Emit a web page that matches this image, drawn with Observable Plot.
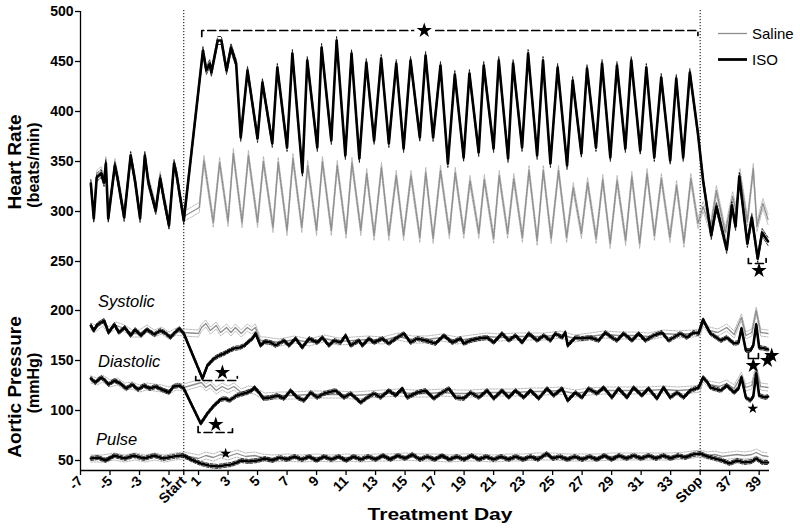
<!DOCTYPE html>
<html><head><meta charset="utf-8">
<script src="https://cdn.jsdelivr.net/npm/d3@7"></script>
<script src="https://cdn.jsdelivr.net/npm/@observablehq/plot@0.6"></script>
<style>
body{margin:0;background:#fff;}
#wrap{position:relative;width:800px;height:528px;font-family:"Liberation Sans",Arial,sans-serif;background:#fff;overflow:hidden}
#top,#bot{position:absolute;left:0;}
#top{top:0}
#bot{top:280px}
#ov{position:absolute;left:0;top:0;pointer-events:none}
</style></head><body>
<div id="wrap"><div id="top"></div><div id="bot"></div>
<svg id="ov" width="800" height="528" font-family="'Liberation Sans', Arial, sans-serif"></svg></div>
<script>
// ---------- axes ----------
const xDomain = [-7, 39.7];
const dayTicks = [-7,-5,-3,-1,0,1,3,5,7,9,11,13,15,17,19,21,23,25,27,29,31,33,35,37,39];
const dayTickLabels = ["-7","-5","-3","-1","Start","1","3","5","7","9","11","13","15","17","19","21","23","25","27","29","31","33","Stop","37","39"];
const markerDays = [0, 35];
const hrDomain = [238, 500];
const hrTicks = [250,300,350,400,450,500];
const bpDomain = [40, 230];
const bpTicks = [50,100,150,200];

// ---------- heart rate (beats/min) [day, value] ----------
const isoHeartRate = [[-6.3,328],[-6.1,293],[-5.9,334],[-5.6,338],[-5.4,329],[-5.28,348],[-5.12,293],[-4.67,346],[-4.5,334],[-4.04,294],[-3.6,356],[-3.3,330],[-2.96,293],[-2.64,356],[-2.4,329],[-1.9,301],[-1.6,333],[-1.33,311],[-1.0,286],[-0.66,348],[-0.5,338],[0,291],
[1.3,461],[1.53,441],[1.76,448],[1.87,439],[2.3,471],[2.55,471],[2.9,441],[3.2,464],[3.55,448],
[3.86,374],[4.32,441],[5.0,373],[5.33,429],[6.0,368],[6.34,444],[7.0,364],[7.36,458],[8.04,339],[8.37,451],[9.05,364],[9.34,464],[10.0,371],[10.36,471],[10.95,356],[11.37,458],[11.9,353],[12.37,449],[12.9,371],[13.38,453],[13.9,368],[14.4,448],[14.9,363],[15.37,451],[16.0,374],[16.39,456],[16.9,374],[17.4,446],[17.9,348],[18.37,437],[18.97,354],[19.36,438],[19.99,359],[20.33,446],[21.0,363],[21.35,451],[21.98,353],[22.32,448],[22.93,364],[23.34,458],[23.95,356],[24.35,451],[24.85,348],[25.34,444],[25.98,346],[26.36,431],[26.95,358],[27.33,443],[27.94,364],[28.35,448],[28.91,354],[29.36,446],[29.93,363],[30.33,451],[30.94,361],[31.35,444],[31.89,354],[32.36,434],[32.97,351],[33.38,433],[33.85,354],[34.3,439],[34.85,378],
[35.2,331],[35.75,276],[36.1,305],[36.8,262],[37.15,306],[37.4,285],[37.65,335],[38.2,268],[38.5,294],[38.9,253],[39.2,279],[39.6,270]];
const salineHeartRate = [[-6.3,326],[-6.1,296],[-5.9,336],[-5.6,340],[-5.4,331],[-5.28,350],[-5.12,296],[-4.67,348],[-4.5,336],[-4.04,297],[-3.6,354],[-3.3,332],[-2.96,296],[-2.64,354],[-2.4,331],[-1.9,303],[-1.6,335],[-1.33,313],[-1.0,289],[-0.66,346],[-0.5,336],[0,295],
[1.05,304],[1.37,351],[2.0,289],[2.43,349],[3.0,290],[3.36,358],[3.95,289],[4.38,356],[5.0,289],[5.4,350],[6.05,284],[6.4,349],[7.0,281],[7.4,353],[8.0,284],[8.4,346],[9.0,281],[9.4,350],[10.0,281],[10.4,346],[11.0,278],[11.4,349],[12.0,281],[12.4,338],[12.9,276],[13.4,344],[13.9,276],[14.4,336],[14.9,276],[15.4,336],[16.0,274],[16.4,339],[16.9,273],[17.4,341],[18.0,278],[18.4,339],[18.98,278],[19.4,331],[20.0,278],[20.37,332],[21.0,273],[21.38,336],[21.95,278],[22.37,333],[22.95,274],[23.4,341],[23.95,271],[24.37,341],[24.9,273],[25.4,341],[25.95,274],[26.4,324],[26.95,278],[27.37,329],[27.95,273],[28.4,332],[28.9,268],[29.37,331],[29.95,271],[30.37,335],[30.9,268],[31.4,338],[31.9,276],[32.37,333],[32.95,274],[33.4,326],[33.9,269],[34.37,333],[34.85,288],
[35.2,305],[35.7,283],[36.1,321],[36.7,279],[37.2,315],[37.45,300],[37.7,338],[38.2,290],[38.6,343],[38.85,285],[39.25,308],[39.6,292]];
const isoHrSem = 4;
const salineHrSem = 5;

// ---------- aortic pressure (mmHg) [day, value] ----------
const isoSystolic = [[-6.3,185],[-6.1,180],[-5.85,186],[-5.4,190],[-5.1,178],[-4.7,186],[-4.4,178],[-4.0,183],[-3.6,175],[-3.3,181],[-2.9,175],[-2.5,181],[-2.0,176],[-1.6,180],[-1.3,178],[-0.9,173],[-0.6,178],[-0.3,182],[0,177],
[1.27,132],[1.6,145],[2.05,152],[2.4,155],[2.73,157],[3.1,160],[3.4,162],[3.8,163],[4.1,165],[4.4,169],[4.65,172],[4.87,177],[5.2,165],[5.5,169],
[5.89,168],[6.23,165],[6.79,170],[7.13,165],[7.58,172],[8.03,163],[8.49,172],[9.05,168],[9.39,173],[9.84,165],[10.18,170],[10.63,168],[10.97,175],[11.31,165],[11.87,170],[12.1,165],[12.55,172],[12.89,168],[13.45,172],[13.9,167],[14.47,173],[14.92,177],[15.37,168],[15.82,172],[16.39,170],[17.06,167],[17.63,175],[18.19,168],[18.76,172],[18.98,167],[19.43,170],[20.0,172],[20.56,173],[21.01,168],[21.57,177],[22.03,170],[22.48,175],[22.93,168],[23.38,177],[23.95,170],[24.4,175],[24.85,170],[25.19,177],[25.64,173],[25.86,178],[26.02,165],[26.54,173],[26.99,172],[27.55,173],[28.12,170],[28.57,178],[29.02,173],[29.36,170],[29.81,177],[30.38,170],[30.83,177],[31.28,170],[31.84,175],[32.41,178],[32.86,170],[33.2,173],[33.65,177],[34.1,173],[34.55,178],[34.89,177],
[35.2,191],[35.4,185],[35.7,177],[36.4,170],[36.8,173],[37.3,167],[37.6,168],[37.8,182],[38.1,160],[38.4,160],[38.6,165],[38.8,186],[39.0,163],[39.4,162],[39.6,161]];
const salineSystolic = [[-6.3,184],[-6.0,182],[-5.5,188],[-5.1,180],[-4.6,185],[-4.0,182],[-3.5,177],[-3.0,177],[-2.5,182],[-2.0,177],[-1.5,180],[-1.0,175],[-0.5,179],[0,178],
[1.0,177],[1.2,183],[1.5,187],[1.8,180],[2.2,185],[2.5,178],[2.9,183],[3.2,178],[3.5,183],[3.9,177],[4.3,183],[4.6,180],[4.85,183],[5.2,170],
[5.5,170],[6.5,168],[7.5,171],[8.5,168],[9.5,172],[10.5,169],[11.5,170],[12.5,171],[13.5,170],[14.5,174],[15.5,171],[16.5,171],[17.5,173],[18.5,170],[19.5,172],[20.5,174],[21.5,173],[22.5,174],[23.5,174],[24.5,174],[25.5,176],[26.5,172],[27.5,174],[28.5,176],[29.5,175],[30.5,175],[31.5,174],[32.5,177],[33.5,176],[34.5,177],
[35.0,178],[35.2,188],[35.6,180],[36.2,178],[36.8,183],[37.3,176],[37.8,193],[38.1,175],[38.5,178],[38.8,200],[39.1,178],[39.6,177]];
const isoDiastolic = [[-6.3,132],[-6.0,128],[-5.6,133],[-5.4,131],[-5.1,126],[-4.7,130],[-4.3,127],[-3.9,122],[-3.5,126],[-3.1,121],[-2.7,125],[-2.3,122],[-1.9,124],[-1.5,121],[-1.0,118],[-0.7,124],[-0.3,125],[0,122],
[1.15,87],[1.6,97],[2.05,105],[2.5,111],[2.8,112],[3.1,110],[3.6,115],[4.3,118],[4.6,120],[4.8,123],[5.1,118],[5.4,112],
[5.89,113],[6.34,115],[6.79,112],[7.24,120],[7.69,113],[8.15,110],[8.6,118],[9.05,113],[9.5,117],[10.29,120],[10.86,113],[11.31,117],[11.99,108],[12.44,113],[12.89,117],[13.34,113],[13.9,120],[14.36,115],[14.81,122],[15.14,113],[15.82,118],[16.39,120],[16.95,112],[17.4,117],[17.97,122],[18.42,113],[18.98,112],[19.43,118],[20.0,113],[20.56,120],
[21.01,112],[21.57,120],[22.03,113],[22.48,120],[23.04,113],[23.5,120],[24.06,112],[24.62,122],[25.07,115],[25.64,122],[26.02,110],[26.54,118],[26.99,113],[27.44,122],[28.0,117],[28.46,123],[29.02,113],[29.47,122],[30.04,113],[30.49,123],[31.05,115],[31.5,122],[32.07,112],[32.52,123],[32.97,113],[33.43,118],[33.88,113],[34.33,120],[34.89,123],
[35.2,133],[35.5,128],[35.7,123],[36.4,120],[36.8,125],[37.3,118],[37.6,122],[37.8,133],[38.1,113],[38.4,110],[38.6,114],[38.8,137],[39.0,115],[39.4,113],[39.6,114]];
const salineDiastolic = [[-6.3,131],[-5.9,129],[-5.5,132],[-5.0,127],[-4.5,129],[-4.0,124],[-3.5,125],[-3.0,122],[-2.5,124],[-2.0,123],[-1.5,122],[-1.0,120],[-0.5,124],[0,123],
[1.2,128],[1.5,123],[1.8,126],[2.2,120],[2.6,124],[3.0,121],[3.4,124],[3.9,118],[4.4,121],[4.8,120],[5.1,117],
[5.5,114],[6.5,115],[7.5,115],[8.5,116],[9.5,116],[10.5,116],[11.5,115],[12.5,116],[13.5,117],[14.5,118],[15.5,117],[16.5,117],[17.5,118],[18.5,117],[19.5,117],[20.5,118],[21.5,118],[22.5,118],[23.5,119],[24.5,119],[25.5,120],[26.5,117],[27.5,119],[28.5,120],[29.5,120],[30.5,120],[31.5,120],[32.5,121],[33.5,120],[34.5,121],
[35.0,122],[35.2,132],[35.6,126],[36.3,124],[36.8,127],[37.3,122],[37.8,135],[38.1,123],[38.5,125],[38.8,142],[39.1,124],[39.6,123]];
const isoPulse = [[-6.3,52],[-5.8,53],[-5.3,50],[-4.7,55],[-4.0,52],[-3.4,55],[-2.7,52],[-2.0,55],[-1.4,52],[-0.7,54],[-0.2,55],[0,55],
[0.5,51],[1.15,47],[1.7,45],[2.3,44],[2.7,45],[3.2,46],[3.6,48],[3.9,50],[4.4,49],
[5.0,50],[5.5,52],[6.0,50],[6.5,53],[7.0,51],[7.5,54],[8.0,51],[8.5,54],[9.0,50],[9.5,54],[10.0,51],[10.5,54],[11.0,50],[11.5,54],[12.0,51],[12.5,54],[13.0,51],[13.5,55],[14.0,51],[14.5,55],[15.0,52],[15.5,56],[16.0,51],[16.5,54],[17.0,51],[17.5,55],[18.0,51],[18.5,54],[19.0,51],[19.5,55],[20.0,51],[20.5,54],[21.0,51],[21.5,54],[22.0,51],[22.5,54],[23.0,51],[23.5,54],[24.0,51],[24.6,57],[25.0,52],[25.5,54],[26.0,51],[26.5,54],[27.0,51],[27.5,54],[28.0,51],[28.5,55],[29.0,51],[29.5,55],[30.0,52],[30.5,55],[31.0,52],[31.5,55],[32.0,52],[32.5,55],[33.0,52],[33.5,55],[34.0,53],[34.5,56],
[35.0,57],[35.5,54],[36.0,52],[36.5,50],[37.0,47],[37.5,50],[38.0,48],[38.5,49],[38.8,52],[39.2,48],[39.6,48]];
const salinePulse = [[-6.3,52],[-5.5,52],[-4.7,54],[-4.0,52],[-3.3,54],[-2.6,52],[-2.0,54],[-1.3,52],[-0.6,54],[0,55],
[1.0,52],[1.5,55],[2.0,53],[2.5,56],[3.0,54],[3.6,57],[4.2,54],[4.8,55],[5.3,53],
[6.0,52],[7.0,53],[8.0,52],[9.0,53],[10.0,52],[11.0,53],[12.0,52],[13.0,53],[14.0,53],[15.0,54],[16.0,53],[17.0,53],[18.0,52],[19.0,53],[20.0,53],[21.0,52],[22.0,53],[23.0,53],[24.0,54],[25.0,54],[26.0,53],[27.0,53],[28.0,53],[29.0,54],[30.0,54],[31.0,54],[32.0,54],[33.0,54],[34.0,55],
[35.0,57],[35.5,55],[36.0,56],[36.5,54],[37.0,55],[37.5,56],[38.0,55],[38.5,56],[38.8,58],[39.2,55],[39.6,54]];
const isoBpSem = 2;
const salineBpSem = 3.5;

// ---------- significance annotations ----------
const hrBrackets = [
  {dash: true, pts: [[1.22,475],[1.22,481],[34.85,481],[34.85,476]]},
  {dash: true, pts: [[38.27,253],[38.27,248],[39.47,248],[39.47,253]]}
];
const hrStars = [{day: 16.3, v: 481, big: true, halo: true}, {day: 38.99, v: 241, big: true}];
const bpBrackets = [
  {dash: true, pts: [[0.81,134],[0.81,130],[3.63,130],[3.63,134]]},
  {dash: true, pts: [[0.97,84],[0.97,78],[3.3,78],[3.3,84]]},
  {dash: false, pts: [[38.27,157],[38.27,152],[38.95,152],[38.95,157]]}
];
const bpStars = [
  {day: 2.62, v: 138, big: true}, {day: 2.17, v: 86, big: true}, {day: 2.84, v: 57, big: false},
  {day: 38.6, v: 145, big: true}, {day: 39.56, v: 150, big: true}, {day: 39.85, v: 155, big: true},
  {day: 38.57, v: 102, big: false}
];

// ---------- helpers ----------
const pts = (a, off = 0) => a.map(([day, v]) => ({day, v: v + off}));
const GREY = "#8e8e8e";
function seriesMarks(arr, sem, iso) {
  const base = {x: "day", y: "v", curve: "linear"};
  if (iso) return [
    Plot.line(pts(arr, sem), {...base, stroke: "#000", strokeWidth: 0.8, strokeDasharray: "3,1.5"}),
    Plot.line(pts(arr, -sem), {...base, stroke: "#000", strokeWidth: 0.8, strokeDasharray: "3,1.5"}),
    Plot.line(pts(arr), {...base, stroke: "#000", strokeWidth: 2.6, strokeLinejoin: "round"})
  ];
  return [
    Plot.line(pts(arr, sem), {...base, stroke: "#a8a8a8", strokeWidth: 0.8, strokeDasharray: "2,1.2"}),
    Plot.line(pts(arr, -sem), {...base, stroke: "#a8a8a8", strokeWidth: 0.8, strokeDasharray: "2,1.2"}),
    Plot.line(pts(arr), {...base, stroke: GREY, strokeWidth: 1.3})
  ];
}
function bracketMarks(list) {
  return list.map(b => Plot.line(b.pts.map(([day, v]) => ({day, v})), {x: "day", y: "v", stroke: "#000", strokeWidth: 1.7, strokeDasharray: b.dash ? "8,4" : null}));
}
function starMarks(list) {
  return [
    Plot.dot(list.filter(d => d.halo), {x: "day", y: "v", r: 10, fill: "white", stroke: "none"}),
    Plot.dot(list, {x: "day", y: "v", symbol: "star", fill: "#000", stroke: "none", r: d => d.big ? 4.8 : 3.4})
  ];
}
const fontStyle = {fontFamily: "'Liberation Sans', Arial, sans-serif", fontSize: "14px", fontWeight: "bold", background: "transparent", overflow: "visible", color: "#000"};

// ---------- top panel ----------
const topPlot = Plot.plot({
  width: 800, height: 280, marginLeft: 80, marginRight: 31, marginTop: 11, marginBottom: 7,
  x: {domain: xDomain, axis: null},
  y: {domain: hrDomain},
  r: {type: "identity"},
  style: fontStyle,
  marks: [
    Plot.ruleX(markerDays, {y1: hrDomain[1] + 1, y2: hrDomain[0] - 7, stroke: "#000", strokeWidth: 1, strokeDasharray: "1.2,1.8"}),
    ...seriesMarks(salineHeartRate, salineHrSem, false),
    ...seriesMarks(isoHeartRate, isoHrSem, true),
    ...bracketMarks(hrBrackets),
    ...starMarks(hrStars),
    Plot.ruleX([xDomain[0]], {y1: hrDomain[0] - 7, y2: hrDomain[1], stroke: "#000", strokeWidth: 1.3}),
    Plot.axisY({ticks: hrTicks, tickSize: 5, tickPadding: 2, label: null, strokeWidth: 1.3})
  ]
});
document.getElementById("top").appendChild(topPlot);

// ---------- bottom panel ----------
const botPlot = Plot.plot({
  width: 800, height: 248, marginLeft: 80, marginRight: 31, marginTop: 0, marginBottom: 58,
  x: {domain: xDomain},
  y: {domain: bpDomain},
  r: {type: "identity"},
  style: fontStyle,
  marks: [
    Plot.ruleX(markerDays, {y1: bpDomain[1], y2: bpDomain[0], stroke: "#000", strokeWidth: 1, strokeDasharray: "1.2,1.8"}),
    ...seriesMarks(salineSystolic, salineBpSem, false),
    ...seriesMarks(salineDiastolic, salineBpSem, false),
    ...seriesMarks(salinePulse, salineBpSem, false),
    ...seriesMarks(isoSystolic, isoBpSem, true),
    ...seriesMarks(isoDiastolic, isoBpSem, true),
    ...seriesMarks(isoPulse, isoBpSem, true),
    ...bracketMarks(bpBrackets),
    ...starMarks(bpStars),
    Plot.ruleX([xDomain[0]], {y1: bpDomain[0], y2: bpDomain[1], stroke: "#000", strokeWidth: 1.3}),
    Plot.ruleY([bpDomain[0]], {stroke: "#000", strokeWidth: 1.3}),
    Plot.axisY({ticks: bpTicks, tickSize: 5, tickPadding: 2, label: null, strokeWidth: 1.3}),
    Plot.axisX({ticks: dayTicks, tickFormat: d => dayTickLabels[dayTicks.indexOf(d)], tickRotate: -45, tickSize: 5, tickPadding: 3, label: null, strokeWidth: 1.3})
  ]
});
document.getElementById("bot").appendChild(botPlot);

// ---------- titles, panel labels, legend ----------
const ov = d3.select("#ov");
function rotText(txt, x, y, size) {
  ov.append("text").attr("transform", `translate(${x},${y}) rotate(-90)`).attr("text-anchor", "middle")
    .attr("font-weight", "bold").attr("font-size", size).text(txt);
}
rotText("Heart Rate", 21, 162, 19);
rotText("(beats/min)", 39, 165, 16);
rotText("Aortic Pressure", 21, 387, 19);
rotText("(mmHg)", 39, 383, 16);
ov.append("text").attr("x", 440).attr("y", 520).attr("text-anchor", "middle").attr("font-weight", "bold")
  .attr("font-size", 17).attr("textLength", 145).attr("lengthAdjust", "spacingAndGlyphs").text("Treatment Day");
const panelLabels = [["Systolic", 98, 307], ["Diastolic", 98, 367], ["Pulse", 96, 445]];
panelLabels.forEach(([t, x, y]) => ov.append("text").attr("x", x).attr("y", y).attr("font-style", "italic").attr("font-size", 16.5).text(t));
const legendItems = [["Saline", GREY, 1.3, 33.5], ["ISO", "#000", 2.8, 59.5]];
legendItems.forEach(([t, c, w, y]) => {
  ov.append("line").attr("x1", 718).attr("x2", 747).attr("y1", y).attr("y2", y).attr("stroke", c).attr("stroke-width", w);
  ov.append("text").attr("x", 752).attr("y", y + 5.5).attr("font-size", 15).text(t);
});
</script>
</body></html>
